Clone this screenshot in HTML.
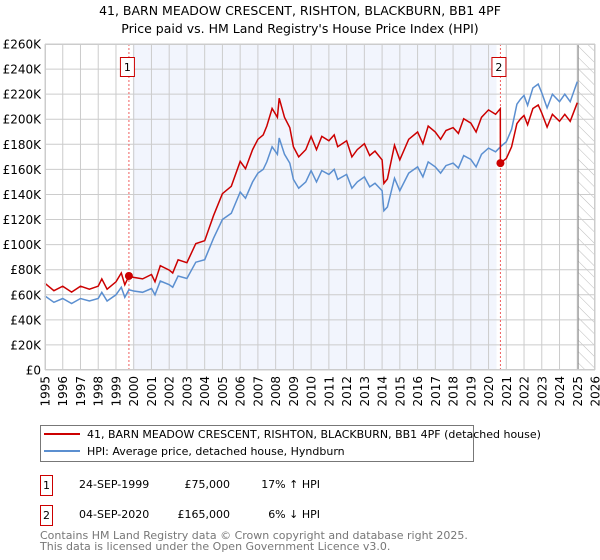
<!DOCTYPE html>
<html><head><meta charset="utf-8">
<style>
html,body{margin:0;padding:0;background:#fff;}
svg{display:block;font-family:"DejaVu Sans","Liberation Sans",sans-serif;}
</style></head>
<body>
<svg id="chart" width="600" height="560" viewBox="0 0 600 560" xmlns="http://www.w3.org/2000/svg">
<defs>
<pattern id="hatch" width="8" height="8" patternUnits="userSpaceOnUse" patternTransform="rotate(-45)">
<line x1="0" y1="0" x2="0" y2="8" stroke="#bbb" stroke-width="1"/>
</pattern>
</defs>
<text x="300" y="15" text-anchor="middle" font-size="12.5" fill="#000">41, BARN MEADOW CRESCENT, RISHTON, BLACKBURN, BB1 4PF</text>
<text x="300" y="33" text-anchor="middle" font-size="12.5" fill="#000">Price paid vs. HM Land Registry's House Price Index (HPI)</text>
<g id="plot"></g>
<g>
<rect x="40.5" y="425.5" width="433" height="36" fill="#fff" stroke="#777"/>
<line x1="44" y1="434" x2="80" y2="434" stroke="#cc0000" stroke-width="2"/>
<text x="87" y="438" font-size="11">41, BARN MEADOW CRESCENT, RISHTON, BLACKBURN, BB1 4PF (detached house)</text>
<line x1="44" y1="451" x2="80" y2="451" stroke="#5b8fd0" stroke-width="2"/>
<text x="87" y="455" font-size="11">HPI: Average price, detached house, Hyndburn</text>
</g>
<g font-size="11">
<rect x="40.5" y="475.5" width="12" height="20" fill="#fff" stroke="#cc0000"/>
<text x="46.5" y="489" text-anchor="middle">1</text>
<text x="79" y="488">24-SEP-1999</text>
<text x="230" y="488" text-anchor="end">£75,000</text>
<text x="320" y="488" text-anchor="end">17% ↑ HPI</text>
<rect x="40.5" y="505.5" width="12" height="20" fill="#fff" stroke="#cc0000"/>
<text x="46.5" y="519" text-anchor="middle">2</text>
<text x="79" y="518">04-SEP-2020</text>
<text x="230" y="518" text-anchor="end">£165,000</text>
<text x="320" y="518" text-anchor="end">6% ↓ HPI</text>
</g>
<text x="40" y="539" font-size="11" fill="#777">Contains HM Land Registry data © Crown copyright and database right 2025.</text>
<text x="40" y="550" font-size="11" fill="#777">This data is licensed under the Open Government Licence v3.0.</text>
</svg>
<script>
const hpiYears = [1995,1995.5,1996,1996.5,1997,1997.5,1998,1998.2,1998.5,1999,1999.3,1999.5,1999.73,2000,2000.5,2001,2001.2,2001.5,2002,2002.2,2002.5,2003,2003.5,2004,2004.5,2005,2005.5,2006,2006.3,2006.7,2007,2007.3,2007.5,2007.8,2008.1,2008.2,2008.5,2008.8,2009,2009.3,2009.7,2010,2010.3,2010.6,2011,2011.3,2011.5,2012,2012.3,2012.6,2013,2013.3,2013.6,2014,2014.1,2014.3,2014.7,2015,2015.5,2016,2016.3,2016.6,2017,2017.3,2017.6,2018,2018.3,2018.6,2019,2019.3,2019.6,2020,2020.4,2020.67,2021,2021.3,2021.6,2021.8,2022,2022.2,2022.5,2022.8,2023,2023.3,2023.6,2024,2024.3,2024.6,2025];
const hpiValues = [59,54,57,53,57,55,57,62,55,60,66,58,64,63,62,65,60,71,68,66,75,73,86,88,105,120,125,142,137,150,157,160,166,178,172,185,172,165,152,145,150,159,150,159,156,160,152,156,145,150,154,146,149,143,127,130,153,143,157,162,154,166,162,157,163,165,161,171,168,162,172,177,174,178,182,192,212,216,219,211,225,228,221,209,220,214,220,214,230];
const saleYears = [1999.73, 2020.67];
const salePrices = [75, 165];
const saleLabels = ["1","2"];
const yTicks = [0,20,40,60,80,100,120,140,160,180,200,220,240,260];
const xTicks = [1995,1996,1997,1998,1999,2000,2001,2002,2003,2004,2005,2006,2007,2008,2009,2010,2011,2012,2013,2014,2015,2016,2017,2018,2019,2020,2021,2022,2023,2024,2025,2026];

const L=45,R=595,T=44,B=370,X0=1995,X1=2026,YMAX=260;
const xs=y=>L+(y-X0)/(X1-X0)*(R-L);
const ys=v=>B-v/YMAX*(B-T);
const NS="http://www.w3.org/2000/svg";
const g=document.getElementById('plot');
function mk(tag,attrs,parent){const e=document.createElementNS(NS,tag);for(const k in attrs)e.setAttribute(k,attrs[k]);(parent||g).appendChild(e);return e;}
function hpiAt(y){for(let i=0;i<hpiYears.length-1;i++){if(y>=hpiYears[i]&&y<=hpiYears[i+1]){const t=(y-hpiYears[i])/(hpiYears[i+1]-hpiYears[i]);return hpiValues[i]+t*(hpiValues[i+1]-hpiValues[i]);}}return hpiValues[hpiValues.length-1];}

let e;
e=mk('rect',{x:xs(1999.95),y:T,width:xs(2020.45)-xs(1999.95),height:B-T,fill:'#f2f5fd'});


e=mk('rect',{x:xs(2025.05),y:T,width:R-xs(2025.05),height:B-T,fill:'url(#hatch)'});


yTicks.forEach(v=>{
 e=mk('line',{x1:L,x2:R,y1:ys(v),y2:ys(v),stroke:'#ccc','stroke-width':1});
 
 
 e=mk('text',{x:L-4,y:ys(v)+4.5,'text-anchor':'end','font-size':12});
 e.textContent=v===0?'£0':'£'+v+'K';
 
 
});
xTicks.forEach(v=>{
 e=mk('line',{x1:xs(v),x2:xs(v),y1:T,y2:B,stroke:'#ccc','stroke-width':1});
 
 
 e=mk('text',{x:0,y:0,'text-anchor':'end','font-size':12,transform:`translate(${xs(v)+4.5},${B+6}) rotate(-90)`});
 e.textContent=v;
 
 
});
e=mk('line',{x1:xs(2025.05),x2:xs(2025.05),y1:T,y2:B,stroke:'#888','stroke-width':1});


// sale markers lines
saleYears.forEach((sy,i)=>{
 e=mk('line',{x1:xs(sy),x2:xs(sy),y1:T,y2:B,stroke:'#f06060','stroke-width':1,'stroke-dasharray':'2,2'});
 
 
 e=mk('rect',{x:xs(sy)-8.5,y:57.5,width:14,height:19,fill:'#fff',stroke:'#cc0000'});
 
 
 e=mk('text',{x:xs(sy)-1.5,y:71,'text-anchor':'middle','font-size':11});
 e.textContent=saleLabels[i];
 
 
});
// HPI line
let d=hpiYears.map((y,i)=>(i?'L':'M')+xs(y).toFixed(1)+','+ys(hpiValues[i]).toFixed(1)).join('');
e=mk('path',{d:d,fill:'none',stroke:'#5b8fd0','stroke-width':1.5});


// Property line: HPI scaled from each sale
const r1=salePrices[0]/hpiAt(saleYears[0]), r2=salePrices[1]/hpiAt(saleYears[1]);
let pts=[];
hpiYears.forEach((y,i)=>{ if(y<saleYears[1]) pts.push([y,hpiValues[i]*r1]); });
pts.push([saleYears[1]-0.01,hpiAt(saleYears[1]-0.01)*r1]);
pts.push([saleYears[1],salePrices[1]]);
hpiYears.forEach((y,i)=>{ if(y>saleYears[1]) pts.push([y,hpiValues[i]*r2]); });
d=pts.map((p,i)=>(i?'L':'M')+xs(p[0]).toFixed(1)+','+ys(p[1]).toFixed(1)).join('');
e=mk('path',{d:d,fill:'none',stroke:'#cc0000','stroke-width':1.5});


saleYears.forEach((sy,i)=>{
 e=mk('circle',{cx:xs(sy),cy:ys(salePrices[i]),r:4,fill:'#cc0000'});
 
 
});
e=mk('rect',{x:L+0.5,y:T+0.5,width:R-L-1,height:B-T-1,fill:'none',stroke:'#ccc'});


</script>
</body></html>
